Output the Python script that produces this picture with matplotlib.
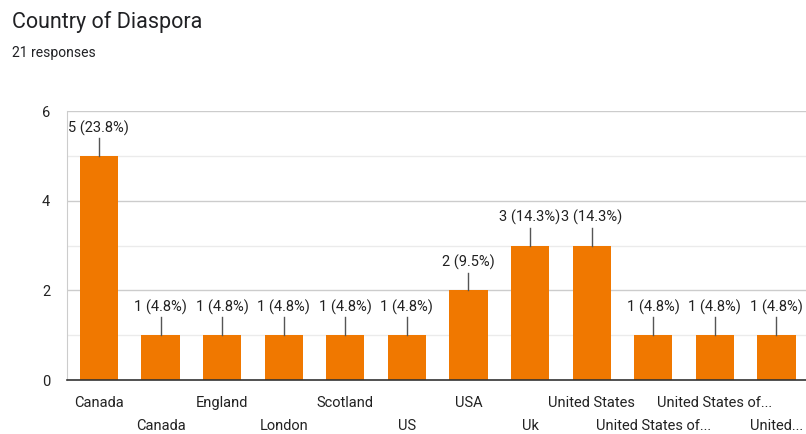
import matplotlib.pyplot as plt
from matplotlib.ticker import MultipleLocator

plt.rcParams['font.family'] = ['Roboto', 'DejaVu Sans']

countries = ['Canada', 'Canada', 'England', 'London', 'Scotland', 'US', 'USA',
             'Uk', 'United States', 'United States of...', 'United States of...',
             'United...']
counts = [5, 1, 1, 1, 1, 1, 2, 3, 3, 1, 1, 1]
total = 21

fig = plt.figure(figsize=(8.06, 4.34), dpi=100)
ax = fig.add_axes([0.083, 0.124, 0.917, 0.620])

x = list(range(len(countries)))
ax.bar(x, counts, width=0.62, color='#f07800', zorder=3)

for i, c in enumerate(counts):
    ax.plot([i, i], [c, c + 0.4], color='#555555', lw=1, zorder=4)
    ax.text(i, c + 0.45, '%d (%.1f%%)' % (c, 100.0 * c / total),
            ha='center', va='bottom', fontsize=10.5, color='#222222')

ax.set_xlim(-0.52, 11.48)
ax.set_ylim(0, 6)
ax.yaxis.set_major_locator(MultipleLocator(2))
ax.yaxis.set_minor_locator(MultipleLocator(1))
ax.grid(axis='y', which='major', color='#cccccc', lw=1, zorder=0)
ax.grid(axis='y', which='minor', color='#ebebeb', lw=1, zorder=0)

for s in ['top', 'right']:
    ax.spines[s].set_visible(False)
ax.spines['left'].set_color('#cccccc')
ax.spines['bottom'].set_color('#333333')
ax.spines['bottom'].set_linewidth(1.2)
ax.spines['bottom'].set_zorder(5)

ax.tick_params(axis='both', which='both', length=0, labelsize=10.5,
               colors='#222222')
ax.tick_params(axis='y', pad=12)
ax.set_xticks(x)
ax.set_xticklabels(countries)
for i, lab in enumerate(ax.get_xticklabels()):
    lab.set_y(-0.042 if i % 2 == 0 else -0.127)

fig.text(0.015, 0.95, 'Country of Diaspora', fontsize=15.5, color='#202124',
         va='center')
fig.text(0.015, 0.877, '21 responses', fontsize=10, color='#202124',
         va='center')

fig.savefig('out.png', dpi=100)
